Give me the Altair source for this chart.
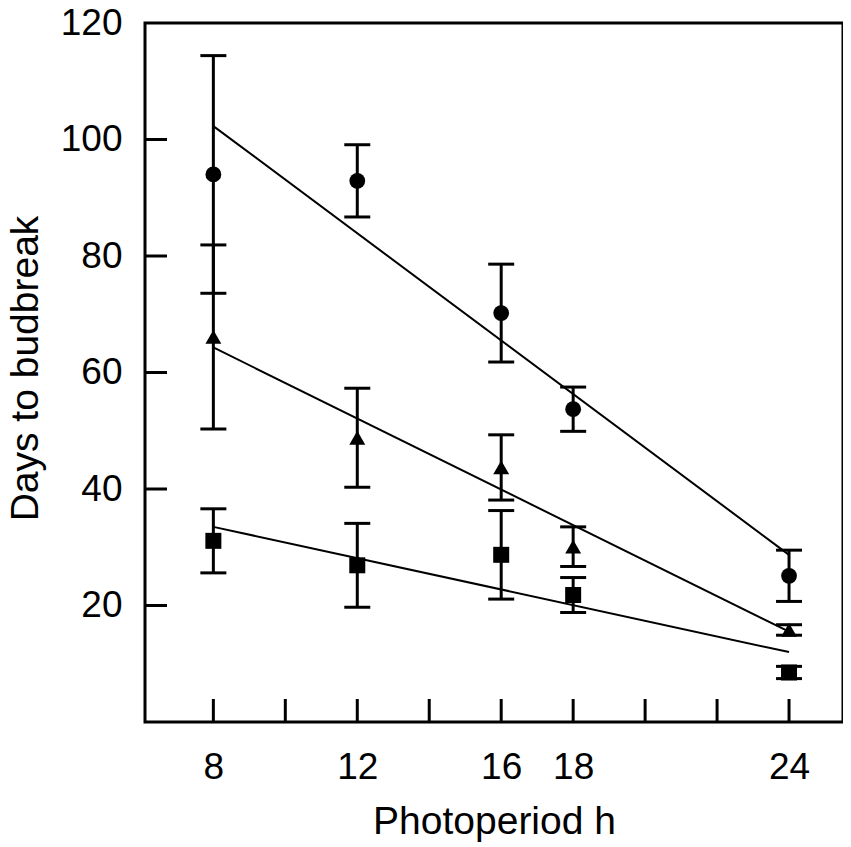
import altair as alt
import pandas as pd

# ---- data ----
photoperiod = [8, 12, 16, 18, 24]

circle_mean = [94.0, 92.9, 70.2, 53.7, 25.1]
circle_err = [20.4, 6.2, 8.4, 3.8, 4.4]

triangle_mean = [66.1, 48.8, 43.7, 30.1, 15.8]
triangle_err = [15.8, 8.5, 5.6, 3.4, 0.9]

square_mean = [31.1, 26.9, 28.7, 21.8, 8.5]
square_err = [5.5, 7.2, 7.6, 3.0, 1.05]

fit_x = [8, 24]
circle_fit = [102.3, 28.7]
triangle_fit = [64.3, 15.5]
square_fit = [33.5, 12.0]

x_label_values = [8, 12, 16, 18, 24]
x_tick_values = [8, 10, 12, 14, 16, 18, 20, 22, 24]
y_tick_values = [20, 40, 60, 80, 100, 120]

shapes = ["circle", "triangle-up", "square"]
sizes = [250, 256, 196]

# ---- tables ----
rows = []
for shp, means, errs in [("circle", circle_mean, circle_err),
                         ("triangle-up", triangle_mean, triangle_err),
                         ("square", square_mean, square_err)]:
    for x, m, e in zip(photoperiod, means, errs):
        rows.append({"x": x, "shape": shp, "y": m, "lo": m - e, "hi": m + e})
df = pd.DataFrame(rows)

fit_rows = []
for shp, ys_ in [("circle", circle_fit), ("triangle-up", triangle_fit), ("square", square_fit)]:
    for x, y in zip(fit_x, ys_):
        fit_rows.append({"x": x, "y": y, "shape": shp})
fit_df = pd.DataFrame(fit_rows)

xt_df = pd.DataFrame({"x": x_tick_values})
yt_df = pd.DataFrame({"y": y_tick_values[:-1]})

W, H = 698, 699
FONT = "Liberation Sans"

xs = alt.Scale(domain=[6.1, 25.5], nice=False, zero=False)
ys = alt.Scale(domain=[0, 120], nice=False, zero=False)

x_axis = alt.Axis(values=x_label_values, title="Photoperiod h", grid=False, domain=False,
                  ticks=False, tickSize=0, labelFontSize=37, labelFont=FONT, labelColor="black",
                  labelBaseline="alphabetic", labelPadding=56, labelFlush=False, labelOverlap=False,
                  titleFont=FONT, titleFontSize=39, titleFontWeight="normal", titleColor="black",
                  titleBaseline="alphabetic", titleY=111)
y_axis = alt.Axis(values=y_tick_values, title="Days to budbreak", grid=False, domain=False,
                  ticks=False, tickSize=0, labelFontSize=37, labelFont=FONT, labelColor="black",
                  labelPadding=23, labelFlush=False, labelOverlap=False,
                  titleFont=FONT, titleFontSize=39, titleFontWeight="normal", titleColor="black",
                  titleBaseline="alphabetic", titleX=-108, titleY=345)

X = lambda f: alt.X(f, scale=xs, axis=x_axis)
Y = lambda f: alt.Y(f, scale=ys, axis=y_axis)

err_rule = alt.Chart(df).mark_rule(color="black", strokeWidth=3).encode(
    x=X("x:Q"), y=Y("lo:Q"), y2="hi:Q")
cap_lo = alt.Chart(df).mark_tick(color="black", thickness=3, size=26, orient="horizontal", opacity=1).encode(
    x=X("x:Q"), y=Y("lo:Q"))
cap_hi = alt.Chart(df).mark_tick(color="black", thickness=3, size=26, orient="horizontal", opacity=1).encode(
    x=X("x:Q"), y=Y("hi:Q"))

fit = alt.Chart(fit_df).mark_line(color="black", strokeWidth=2).encode(
    x=X("x:Q"), y=Y("y:Q"), detail="shape:N")

pts = alt.Chart(df).mark_point(filled=True, color="black", opacity=1, strokeWidth=0).encode(
    x=X("x:Q"), y=Y("y:Q"),
    shape=alt.Shape("shape:N", scale=alt.Scale(domain=shapes, range=shapes), legend=None),
    size=alt.Size("shape:N", scale=alt.Scale(domain=shapes, range=sizes), legend=None))

xticks = alt.Chart(xt_df).mark_rule(color="black", strokeWidth=3).encode(
    x=X("x:Q"), y=alt.value(H), y2=alt.value(H - 23))
yticks = alt.Chart(yt_df).mark_rule(color="black", strokeWidth=3).encode(
    y=Y("y:Q"), x=alt.value(0), x2=alt.value(22))

chart = alt.layer(xticks, yticks, fit, err_rule, cap_lo, cap_hi, pts).properties(
    width=W, height=H,
    padding={"left": 137, "top": 15, "right": 0, "bottom": 125},
    autosize=alt.AutoSizeParams(type="none"),
    background="white",
).configure_view(stroke="black", strokeWidth=3)

chart.save("out.html", embed_options={"renderer": "svg", "actions": False})
